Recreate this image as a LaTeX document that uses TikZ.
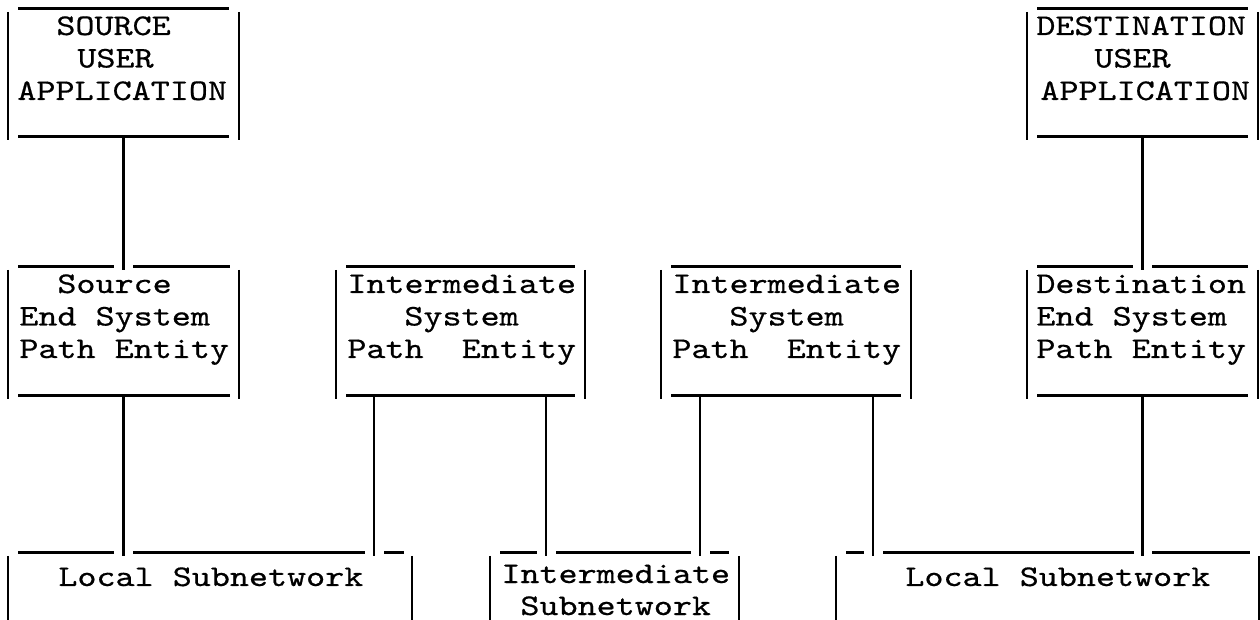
\documentclass[tikz,border=0pt]{standalone}
\usepackage{fontspec}
\usepackage{graphicx}
\usetikzlibrary{fit}
\newfontfamily\twfont[FakeBold=0.5]{lmmono10-regular.otf}
\newcommand\lbl[1]{\scalebox{1.21}[1]{#1}}
\newcommand\tbox[5]{%
  \coordinate (#1-nw) at (#2,#3);
  \coordinate (#1-se) at (#4,#5);
  \node[area, fit=(#1-nw)(#1-se)] (#1) {};
  \draw[vline] (#2,#3+3) -- (#2,#5+3);
  \draw[vline] (#4,#3+3) -- (#4,#5+3);
}
\begin{document}
\begin{tikzpicture}[x=0.5pt,y=-0.5pt,
  vline/.style={line width=1.1pt, black},
  hline/.style={line width=1.5pt, black},
  conn/.style={line width=1.1pt, black},
  txt/.style={anchor=base west, inner sep=0pt, font=\twfont\fontsize{15}{15}\selectfont},
  area/.style={inner sep=0pt, draw=none, rectangle}]
\useasboundingbox (0,0) rectangle (1260,620);

% ---------- top row ----------
\tbox{sua}{8}{9}{239}{137}
\draw[hline] (18,9) -- (229,9);
\draw[hline] (18,137) -- (229,137);
\node[txt] (sua1) at (56,35) {\lbl{SOURCE}};
\node[txt] (sua2) at (77,67.5) {\lbl{USER}};
\node[txt] (sua3) at (17,100) {\lbl{APPLICATION}};

\tbox{dua}{1027}{9}{1258}{137}
\draw[hline] (1037,9) -- (1248,9);
\draw[hline] (1037,137) -- (1248,137);
\node[txt] (dua1) at (1036,35) {\lbl{DESTINATION}};
\node[txt] (dua2) at (1094,67.5) {\lbl{USER}};
\node[txt] (dua3) at (1040,100) {\lbl{APPLICATION}};

% ---------- middle row ----------
\tbox{sep}{8}{267}{239}{396}
\draw[hline] (18,267) -- (114,267);
\draw[hline] (133,267) -- (230,267);
\draw[hline] (18,396) -- (230,396);
\node[txt] (sep1) at (57,293) {\lbl{Source}};
\node[txt] (sep2) at (19,325.5) {\lbl{End System}};
\node[txt] (sep3) at (19,358) {\lbl{Path Entity}};

\tbox{ieA}{336}{267}{585}{396}
\draw[hline] (346,267) -- (575,267);
\draw[hline] (346,396) -- (575,396);
\node[txt] (ieA1) at (347,293) {\lbl{Intermediate}};
\node[txt] (ieA2) at (404,325.5) {\lbl{System}};
\node[txt] (ieA3) at (347,358) {\lbl{Path\ \ Entity}};

\tbox{ieB}{661}{267}{911}{396}
\draw[hline] (671,267) -- (901,267);
\draw[hline] (671,396) -- (901,396);
\node[txt] (ieB1) at (672,293) {\lbl{Intermediate}};
\node[txt] (ieB2) at (729,325.5) {\lbl{System}};
\node[txt] (ieB3) at (672,358) {\lbl{Path\ \ Entity}};

\tbox{dep}{1027}{267}{1258}{396}
\draw[hline] (1037,267) -- (1133,267);
\draw[hline] (1152,267) -- (1248,267);
\draw[hline] (1037,396) -- (1248,396);
\node[txt] (dep1) at (1036,293) {\lbl{Destination}};
\node[txt] (dep2) at (1036,325.5) {\lbl{End System}};
\node[txt] (dep3) at (1036,358) {\lbl{Path Entity}};

% ---------- bottom row ----------
\tbox{lsl}{8}{553}{412}{620}
\draw[hline] (18,553) -- (114,553);
\draw[hline] (133,553) -- (365,553);
\draw[hline] (384,553) -- (404,553);
\node[txt] (lsl1) at (58,586) {\lbl{Local Subnetwork}};

\tbox{isn}{490}{553}{739}{620}
\draw[hline] (500,553) -- (537,553);
\draw[hline] (556,553) -- (691,553);
\draw[hline] (710,553) -- (729,553);
\node[txt] (isn1) at (501,583) {\lbl{Intermediate}};
\node[txt] (isn2) at (520,615) {\lbl{Subnetwork}};

\tbox{lsr}{836}{553}{1259}{620}
\draw[hline] (846,553) -- (864,553);
\draw[hline] (883,553) -- (1134,553);
\draw[hline] (1152,553) -- (1250,553);
\node[txt] (lsr1) at (905,586) {\lbl{Local Subnetwork}};

% ---------- connectors ----------
\path (sep.north) ++(0,3) coordinate (cA);
\draw[conn] (sua.south) -- (cA);
\path (dep.north) ++(0,3) coordinate (cB);
\draw[conn] (dua.south) -- (cB);

\path (sep.south |- lsl.north) ++(0,3) coordinate (c1b);
\draw[conn] (sep.south) -- (c1b);

\path (ieA.south west) ++(38,0) coordinate (c2a);
\path (c2a |- lsl.north) ++(0,3) coordinate (c2b);
\draw[conn] (c2a) -- (c2b);

\path (ieA.south west) ++(210,0) coordinate (c3a);
\path (c3a |- isn.north) ++(0,3) coordinate (c3b);
\draw[conn] (c3a) -- (c3b);

\path (ieB.south west) ++(39,0) coordinate (c4a);
\path (c4a |- isn.north) ++(0,3) coordinate (c4b);
\draw[conn] (c4a) -- (c4b);

\path (ieB.south west) ++(212,0) coordinate (c5a);
\path (c5a |- lsr.north) ++(0,3) coordinate (c5b);
\draw[conn] (c5a) -- (c5b);

\path (dep.south |- lsr.north) ++(0,3) coordinate (c6b);
\draw[conn] (dep.south) -- (c6b);
\end{tikzpicture}
\end{document}
